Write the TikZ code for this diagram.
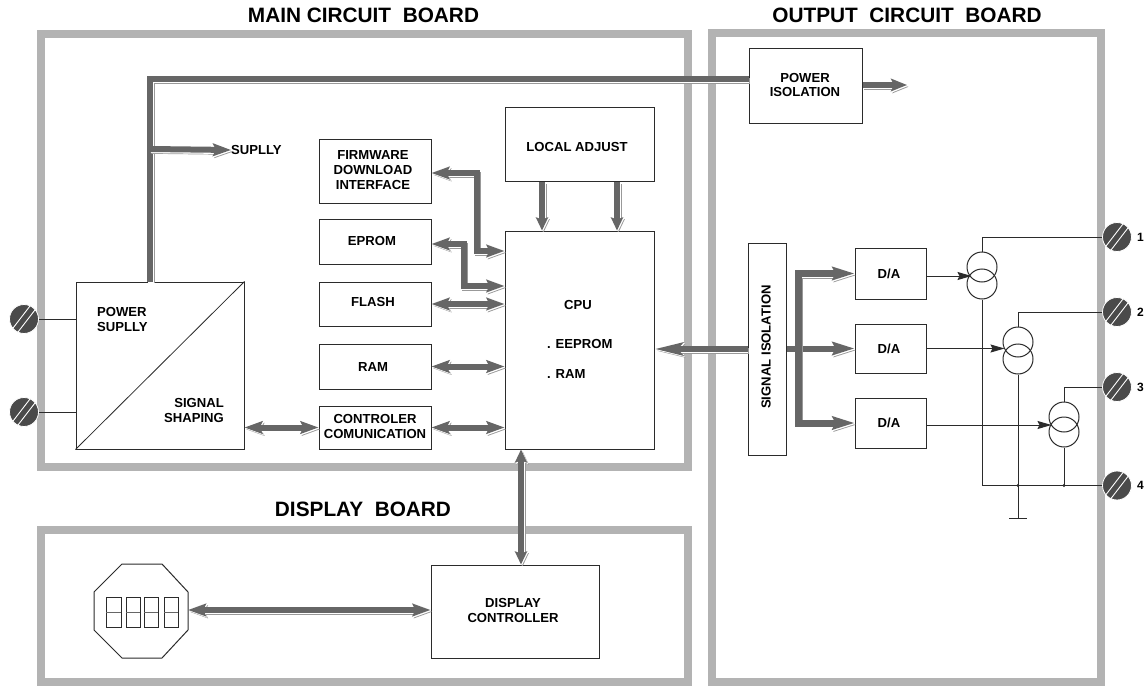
\documentclass[tikz,border=0pt]{standalone}
\usepackage{fontspec}
\setmainfont{Liberation Sans}
\usepackage{tikz}
\usetikzlibrary{arrows.meta,positioning,calc}
\definecolor{framegray}{HTML}{B3B3B3}
\definecolor{busgray}{HTML}{666666}
\definecolor{busedge}{HTML}{999999}
\definecolor{boxline}{HTML}{2B2B2B}
\definecolor{screwgray}{HTML}{4A4A4A}

\begin{document}
\begin{tikzpicture}[
  x=1pt, y=-1pt,
  every node/.style={font=\bfseries\fontsize{13.1}{14.8}\selectfont, inner sep=0pt},
  bushead/.tip={Stealth[length=18pt,width=12.5pt,inset=3pt]},
  shorthead/.tip={Stealth[length=13pt,width=12pt,inset=2pt]},
  longhead/.tip={Stealth[length=28pt,width=12.5pt,inset=5pt]},
  fanhead/.tip={Stealth[length=22pt,width=13pt,inset=3pt]},
  wirehead/.tip={Stealth[length=14pt,width=8pt,inset=2pt]},
  boardframe/.style={draw=framegray, line width=7.5pt},
  boardtitle/.style={font=\bfseries\fontsize{20.8}{22}\selectfont},
  box/.style={draw=boxline, line width=1pt, align=center},
  bus/.style={draw=busgray, line width=#1,
    preaction={draw=busedge, line width=#1, transform canvas={shift={(1.6pt,-1.8pt)}}},
    preaction={draw=white, line width=#1, transform canvas={shift={(0.9pt,-1.1pt)}}}},
  bus/.default=6pt,
  wire/.style={draw=boxline, line width=1pt},
  source/.style={circle, draw=boxline, line width=1pt, minimum size=30pt},
  screw/.style={circle, fill=screwgray, draw=white, line width=0.8pt, minimum size=29pt,
    path picture={
      \foreach \dx in {-4,4} {
        \draw[white, line width=0.9pt]
          ([shift={(\dx-10,13)}]path picture bounding box.center) --
          ([shift={(\dx+10,-13)}]path picture bounding box.center);
      }
    }},
]

\path[use as bounding box, fill=white] (0,0) rectangle (1145,687);

% Board frames.
\draw[boardframe] (41,34) rectangle (688,467);
\draw[boardframe] (712,33) rectangle (1101,682);
\draw[boardframe] (41,530) rectangle (688,682);

\node[boardtitle] (maintitle) at (363.5,15.5) {MAIN CIRCUIT\ \ BOARD};
\node[boardtitle] (outtitle) at (907,15.5) {OUTPUT\ \ CIRCUIT\ \ BOARD};
\node[boardtitle] (disptitle) at (363,509) {DISPLAY\ \ BOARD};

% Main board blocks.
\node[box, minimum width=168pt, minimum height=167pt] (psu) at (160,365.5) {};
\draw[boxline, line width=0.8pt] (psu.south west) -- (psu.north east);
\node[align=left, anchor=west] (psulab) at (97,319.5) {POWER\\SUPLLY};
\node[align=right, anchor=east] (shapelab) at (224,410.5) {SIGNAL\\SHAPING};

\foreach \name/\yc/\hgt/\txt/\xl/\yl in {
  firmware/171.5/64/{FIRMWARE\\DOWNLOAD\\INTERFACE}/373/170,
  eprom/241.5/45/EPROM/372/241,
  flash/304/44/FLASH/373/302,
  ram/366.5/45/RAM/373/367,
  controler/427.5/43/{CONTROLER\\COMUNICATION}/375/426.5} {
  \node[box, minimum width=112pt, minimum height=\hgt pt] (\name) at (375,\yc) {};
  \node[align=center] (\name lab) at (\xl,\yl) {\txt};
}

\node[box, minimum width=149pt, minimum height=74pt] (localadj) at (579.5,145) {};
\node (localadjlab) at (577,147) {LOCAL ADJUST};
\node[box, minimum width=149pt, minimum height=218pt] (cpu) at (579.5,340) {};
\node (cpulab) at (578,305) {CPU};
\node[anchor=west] (eepromlab) at (547,344) {. EEPROM};
\node[anchor=west] (cpuramlab) at (547,374) {. RAM};

% Output board blocks.
\node[box, minimum width=113pt, minimum height=75pt] (piso) at (805.5,86.5) {};
\node[align=center] (pisolab) at (805,85) {POWER\\ISOLATION};
\node[box, minimum width=38pt, minimum height=212pt] (siso) at (767,349) {};
\node[rotate=90] (sisolab) at (766,347) {SIGNAL ISOLATION};
\foreach \name/\yc/\hgt in {da1/273.5/51, da2/348.5/49, da3/423/50} {
  \node[box, minimum width=71pt, minimum height=\hgt pt] (\name) at (890.5,\yc) {};
  \node (\name lab) at (889,\yc) {D/A};
}

% Display board blocks.
\node[box, minimum width=168pt, minimum height=93pt] (dispctl) at (515,611.5) {};
\node[align=center] (dispctllab) at (513,610.5) {DISPLAY\\CONTROLLER};
\draw[boxline, line width=1pt] (122,564) -- (162,564) -- (188,592) -- (188,630) -- (162,658)
  -- (122,658) -- (94,630) -- (94,592) -- cycle;
\foreach \xl/\xr in {106/121, 126/140, 144/158, 164/178} {
  \draw[boxline, line width=1pt] (\xl,597) rectangle (\xr,627);
  \draw[busgray, line width=1pt] (\xl,612) -- (\xr,612);
}
\coordinate (dispface) at (188,610);

% Power rails.
\draw[bus=6.5pt] ([xshift=-10pt]psu.north) |- ([yshift=7.5pt]piso.west);
\coordinate (supplytap) at (150,149);
\node[anchor=west] (supplylab) at (231,150) {SUPLLY};
\draw[bus, -bushead] (supplytap) -- (supplylab.west);
\coordinate (pisoend) at (907,85);
\draw[bus, -{Stealth[length=16pt,width=12.5pt,inset=3pt]}] (piso.east |- pisoend) -- (pisoend);

% Buses around the CPU.
\draw[bus, bushead-bushead] ([yshift=-1.5pt]firmware.east) -- ++(45,0) |- ([yshift=89pt]cpu.west);
\draw[bus, bushead-bushead] ([yshift=-2.5pt]eprom.east) -- ++(32,0) |- ([yshift=54pt]cpu.west);
\draw[bus, bushead-bushead] (flash.east) -- (cpu.west |- flash.east);
\draw[bus, bushead-bushead] (ram.east) -- (cpu.west |- ram.east);
\draw[bus, bushead-bushead] (controler.east) -- (cpu.west |- controler.east);
\draw[bus, bushead-bushead] (psu.east |- controler.west) -- (controler.west);
\draw[bus, -shorthead] ([xshift=-37.5pt]localadj.south) -- ([xshift=-37.5pt]cpu.north);
\draw[bus, -shorthead] ([xshift=37.5pt]localadj.south) -- ([xshift=37.5pt]cpu.north);
\draw[bus, shorthead-shorthead] ([xshift=-58.5pt]cpu.south) -- ([xshift=6pt]dispctl.north);
\draw[bus, bushead-bushead] (dispface) -- (dispctl.west |- dispface);

% Signal isolation fan-out.
\draw[bus, -longhead] (siso.west) -- (cpu.east |- siso.west);
\coordinate (trunk) at (798,348.5);
\draw[bus, -fanhead] (siso.east |- trunk) -- (da2.west);
\draw[bus=7pt, fanhead-fanhead] (da1.west) -| (trunk) |- (da3.west);

% Screw terminals.
\foreach \name/\xc/\yc in {lterm1/24/319, lterm2/24/412, rterm1/1117/237,
                           rterm2/1117/312, rterm3/1117/387, rterm4/1117/485.5} {
  \node[screw] (\name) at (\xc,\yc) {};
}
\foreach \num in {1,2,3,4} {
  \node[anchor=west, font=\bfseries\fontsize{12}{14}\selectfont] (num\num) at ([xshift=20pt]rterm\num.center) {\num};
}
\draw[wire] (lterm1.east) -- (psu.west |- lterm1.east);
\draw[wire] (lterm2.east) -- (psu.west |- lterm2.east);

% Current outputs.
\foreach \idx/\xc/\ya/\yb in {1/982/267/284, 2/1018/342/359, 3/1064/417/432} {
  \node[source] (src\idx a) at (\xc,\ya) {};
  \node[source] (src\idx b) at (\xc,\yb) {};
  \draw[wire] (src\idx a.north) |- (rterm\idx.west);
  \draw[wire] (src\idx b.south) |- (rterm4.west);
}
\foreach \idx/\yoff/\xoff in {1/-2.5/5, 2/0/2, 3/-2/3} {
  \coordinate (daout\idx) at ([yshift=\yoff pt]da\idx.east);
  \draw[wire, -wirehead] (daout\idx) -- ([xshift=\xoff pt]src\idx a.west |- daout\idx);
}

% Common return and ground.
\coordinate (gnd) at (1018,518);
\draw[wire] (src2b.south) -- (gnd);
\draw[wire] ([xshift=-9pt]gnd) -- ([xshift=9pt]gnd);
\fill[boxline] (src2b.south |- rterm4.west) circle (1.6pt);
\fill[boxline] (src3b.south |- rterm4.west) circle (1.6pt);

\end{tikzpicture}
\end{document}
